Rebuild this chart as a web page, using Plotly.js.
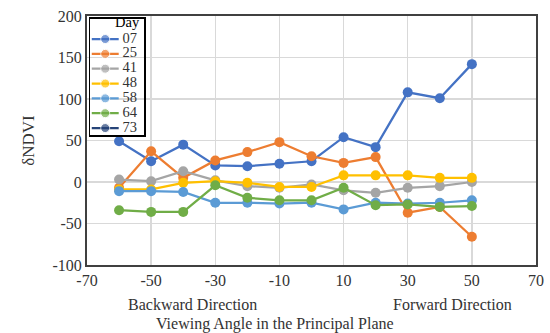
<!DOCTYPE html>
<html><head><meta charset="utf-8">
<script src="https://cdn.plot.ly/plotly-3.0.1.min.js"></script>
<style>html,body{margin:0;padding:0;background:#fff}#chart{width:550px;height:333px}</style>
</head><body><div id="chart"></div>
<script>
const angles = [-60,-50,-40,-30,-20,-10,0,10,20,30,40,50];
const days = ['07','25','41','48','58','64','73'];
const colors = ['#4472C4','#ED7D31','#A5A5A5','#FFC000','#5B9BD5','#70AD47','#264478'];
const day07 = [49,25,45,20,19,22,25,54,42,108,101,142];
const day25 = [-7,37,5,26,36,48,31,23,30,-37,-30,-66];
const day41 = [3,1,13,2,-5,-7,-3,-10,-13,-7,-5,0];
const day48 = [-9,-9,-1,1,-1,-6,-6,8,8,8,5,5];
const day58 = [-11,-11,-12,-25,-25,-26,-25,-33,-25,-26,-25,-22];
const day64 = [-34,-36,-36,-4,-19,-22,-22,-7,-28,-27,-30,-29];
const day73 = [];
const series = [day07,day25,day41,day48,day58,day64,day73];
const xTicks = [-70,-50,-30,-10,10,30,50,70];
const yTicks = [-100,-50,0,50,100,150,200];

const font = 'Liberation Serif';
const txt = '#333';
const traces = series.map((s,i)=>({
  x: angles.slice(0,s.length), y: s, name: days[i], type:'scatter', mode:'lines+markers',
  line:{color:colors[i], width:2.25}, marker:{color:colors[i], size:10}, showlegend:false,
  xaxis:'x', yaxis:'y'
}));
// legend drawn in an inset subplot: one row per day
days.forEach((d,i)=>{
  traces.push({x:[0.03,0.28,0.53], y:[-i,-i,-i], type:'scatter', mode:'lines+markers',
    line:{color:colors[i], width:2.25}, marker:{color:colors[i], size:[0,9,0]},
    showlegend:false, xaxis:'x2', yaxis:'y2', hoverinfo:'skip'});
});
traces.push({x:days.map(()=>0.6), y:days.map((d,i)=>-i), text:days, type:'scatter', mode:'text',
  textposition:'middle right', textfont:{family:font,size:14.5,color:txt}, showlegend:false, xaxis:'x2', yaxis:'y2', hoverinfo:'skip'});

const layout = {
  width:550, height:333,
  margin:{l:87,r:14,t:16,b:68},
  paper_bgcolor:'#fff', plot_bgcolor:'rgba(0,0,0,0)',
  font:{family:font, size:16, color:txt},
  showlegend:false,
  xaxis:{range:[-70,70], tickvals:xTicks, ticktext:xTicks.map(String), showgrid:true, gridcolor:'#d9d9d9', gridwidth:1.5,
    zeroline:false, showline:true, mirror:true, linecolor:'#404040', linewidth:2, ticks:'', tickfont:{family:font,size:16,color:txt}},
  yaxis:{range:[-100,200], tickvals:yTicks, ticktext:yTicks.map(String), showgrid:true, gridcolor:'#d9d9d9', gridwidth:1.5,
    zeroline:false, showline:true, mirror:true, linecolor:'#404040', linewidth:2, ticks:'', tickfont:{family:font,size:16,color:txt},
    title:{text:'δNDVI', font:{family:font,size:17,color:txt}, standoff:14}},
  xaxis2:{domain:[0.007,0.127], range:[0,1], anchor:'y2', showgrid:false, zeroline:false, showticklabels:false, ticks:'',
    showline:true, mirror:true, linecolor:'#000', linewidth:1.5, fixedrange:true},
  yaxis2:{domain:[0.522,0.988], range:[-6.47,1.35], anchor:'x2', showgrid:false, zeroline:false, showticklabels:false, ticks:'',
    showline:true, mirror:true, linecolor:'#000', linewidth:1.5, fixedrange:true},
  annotations:[
    {text:'Day', xref:'x2', yref:'y2', x:0.97, y:1.12, xanchor:'right', yanchor:'middle', showarrow:false, font:{family:font,size:14.5,color:'#000'}},
    {text:'Backward Direction', xref:'paper', yref:'paper', x:0.234, y:-0.16, xanchor:'center', yanchor:'middle', showarrow:false, font:{family:font,size:16,color:txt}},
    {text:'Forward Direction', xref:'paper', yref:'paper', x:0.815, y:-0.16, xanchor:'center', yanchor:'middle', showarrow:false, font:{family:font,size:16,color:txt}},
    {text:'Viewing Angle in the Principal Plane', xref:'paper', yref:'paper', x:0.419, y:-0.237, xanchor:'center', yanchor:'middle', showarrow:false, font:{family:font,size:16,color:txt}}
  ]
};
Plotly.newPlot('chart', traces, layout, {displayModeBar:false, staticPlot:true});
</script></body></html>
